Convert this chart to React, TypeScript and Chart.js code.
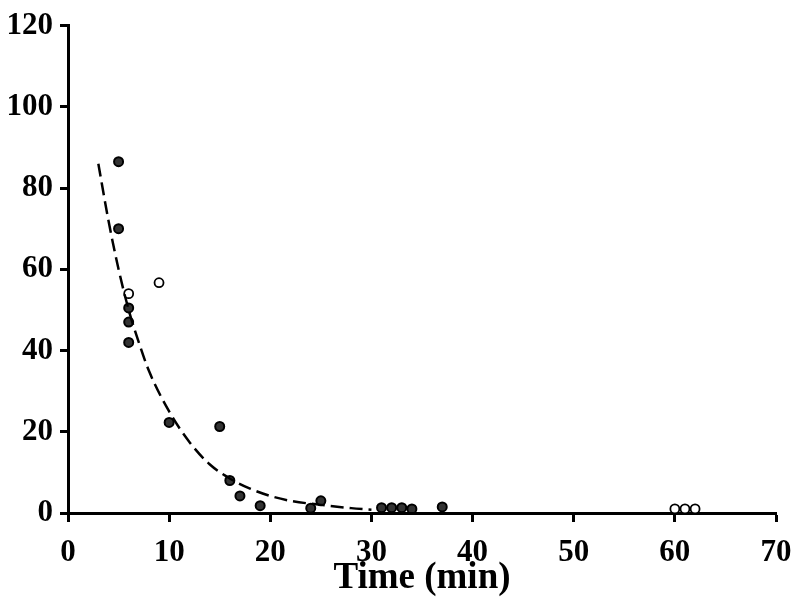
import React, { useEffect, useRef } from "react";
import { Chart, registerables } from "chart.js";

Chart.register(...registerables);

// Filled (dark) markers
const filledX = [5, 5, 6, 6, 6, 10, 15, 16, 17, 19, 24, 25, 31, 32, 33, 34, 37];
const filledY = [86.5, 70, 50.5, 47, 42, 22.3, 21.3, 8, 4.2, 1.8, 1.2, 3, 1.3, 1.3, 1.3, 1, 1.5];
// Open markers
const openX = [9, 6, 60, 61, 62];
const openY = [56.7, 54, 1, 1, 1];
// Fitted decay curve
const fitX = [3, 4, 5, 6, 7, 8, 10, 12, 14, 16, 18, 20, 22, 25, 28, 30];
const fitY = [86, 72, 60, 50, 42, 35, 25, 17.5, 12, 8.5, 6, 4.2, 3, 2, 1.2, 0.8];

const xTicks = [0, 10, 20, 30, 40, 50, 60, 70];
const yTicks = [0, 20, 40, 60, 80, 100, 120];
const xTitle = "Time (min)";

export default function App() {
  const ref = useRef<HTMLCanvasElement>(null);
  useEffect(() => {
    document.body.style.margin = "0";
    const ctx = ref.current!.getContext("2d")!;
    const font = { family: "'Liberation Serif', 'Times New Roman', serif", weight: "bold" as const, size: 31 };
    const chart = new Chart(ctx, {
      type: "scatter",
      data: {
        datasets: [
          {
            type: "line",
            data: fitX.map((x, i) => ({ x, y: fitY[i] })),
            borderColor: "#000",
            borderWidth: 2.5,
            borderDash: [13, 6],
            pointRadius: 0,
            fill: false,
            cubicInterpolationMode: "monotone",
          } as any,
          {
            data: filledX.map((x, i) => ({ x, y: filledY[i] })),
            pointRadius: 4.5,
            borderWidth: 2,
            borderColor: "#000",
            backgroundColor: "rgba(0,0,0,0.8)",
          },
          {
            data: openX.map((x, i) => ({ x, y: openY[i] })),
            pointRadius: 4.5,
            borderWidth: 1.8,
            borderColor: "#000",
            backgroundColor: "#fff",
          },
        ],
      },
      options: {
        animation: false,
        responsive: false,
        layout: { padding: { top: 24, right: 24, left: 0, bottom: 0 } },
        plugins: { legend: { display: false }, tooltip: { enabled: false } },
        scales: {
          x: {
            type: "linear",
            min: 0,
            max: 70,
            afterBuildTicks: (s: any) => {
              s.ticks = xTicks.map((v) => ({ value: v }));
            },
            afterFit: (s: any) => {
              s.height = 94;
              s.paddingLeft = 0;
              s.paddingRight = 0;
            },
            border: { display: true, width: 3, color: "#000" },
            grid: { display: true, drawOnChartArea: false, drawTicks: true, tickLength: 9, tickWidth: 3, tickColor: "#000" },
            ticks: { color: "#000", font, padding: 12, maxRotation: 0 },
            title: { display: true, text: xTitle, color: "#000", font: { ...font, size: 37 }, padding: { top: 0, bottom: 6 } },
          },
          y: {
            type: "linear",
            min: 0,
            max: 120,
            afterBuildTicks: (s: any) => {
              s.ticks = yTicks.map((v) => ({ value: v }));
            },
            afterFit: (s: any) => {
              s.width = 68;
            },
            border: { display: true, width: 3, color: "#000" },
            grid: { display: true, drawOnChartArea: false, drawTicks: true, tickLength: 8, tickWidth: 3, tickColor: "#000" },
            ticks: { color: "#000", font, padding: 7 },
          },
        },
      },
    });
    return () => chart.destroy();
  }, []);
  return <canvas ref={ref} width={800} height={607} style={{ display: "block" }} />;
}
